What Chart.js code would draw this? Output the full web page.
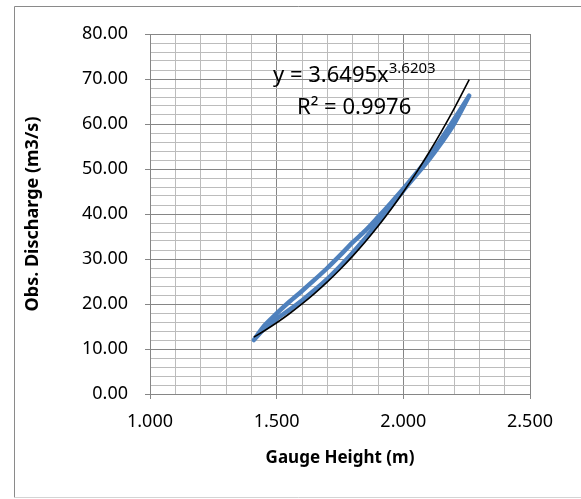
<!DOCTYPE html>
<html>
<head>
<meta charset="utf-8">
<script src="https://cdn.jsdelivr.net/npm/chart.js@4"></script>
<style>
  html, body { margin: 0; padding: 0; background: #fff; }
  #wrap { width: 581px; height: 499px; }
</style>
</head>
<body>
<div id="wrap"><canvas id="ratingCurve" width="581" height="499"></canvas></div>
<script>
// Observed discharge: rising limb then falling limb (loop)
const gaugeRising = [1.41, 1.45, 1.50, 1.55, 1.60, 1.65, 1.70, 1.75, 1.80, 1.85, 1.90, 1.95, 2.00, 2.05, 2.10, 2.15, 2.20, 2.26];
const flowRising  = [12.0, 14.4, 16.7, 18.7, 20.8, 23.1, 25.6, 28.4, 31.4, 34.6, 38.0, 41.6, 45.2, 48.6, 52.0, 55.8, 60.0, 66.3];
const gaugeFalling = [2.26, 2.20, 2.15, 2.10, 2.05, 2.00, 1.95, 1.90, 1.85, 1.80, 1.75, 1.70, 1.65, 1.60, 1.55, 1.50, 1.45, 1.41];
const flowFalling  = [66.3, 61.0, 56.7, 52.6, 49.0, 45.6, 42.4, 39.3, 36.3, 33.7, 30.8, 28.0, 25.4, 22.9, 20.5, 17.9, 15.1, 12.0];

// Power trendline y = a * x^b
const trendA = 3.6495;
const trendB = 3.6203;
const trendR2 = 0.9976;
const trendX = [1.41, 1.45, 1.50, 1.55, 1.60, 1.65, 1.70, 1.75, 1.80, 1.85, 1.90, 1.95, 2.00, 2.05, 2.10, 2.15, 2.20, 2.26];

const xTicks = { min: 1.0, max: 2.5, major: 0.5, minor: 0.1 };
const yTicks = { min: 0, max: 80, major: 10, minor: 2 };

const observed = gaugeRising.map((g, i) => ({ x: g, y: flowRising[i] }))
  .concat(gaugeFalling.map((g, i) => ({ x: g, y: flowFalling[i] })));
const trend = trendX.map(g => ({ x: g, y: trendA * Math.pow(g, trendB) }));

const GRID_MAJOR = "#868686";
const GRID_MINOR = "#bcbcbc";
const FONT = "'Noto Sans', 'DejaVu Sans', sans-serif";

const isMajor = (v, step) => Math.abs(v / step - Math.round(v / step)) < 1e-6;

// outer chart frame + trendline label
const framePlugin = {
  id: "frame",
  beforeDraw(chart) {
    const ctx = chart.ctx;
    ctx.save();
    ctx.fillStyle = "#fff";
    ctx.fillRect(0, 0, chart.width, chart.height);
    ctx.strokeStyle = "#8a8a8a";
    ctx.lineWidth = 1;
    ctx.beginPath();
    ctx.moveTo(700, 6.5);
    ctx.lineTo(14.5, 6.5);
    ctx.lineTo(14.5, 497.5);
    ctx.stroke();
    ctx.strokeStyle = "#d4d4d4";
    ctx.beginPath();
    ctx.moveTo(14.5, 497.5);
    ctx.lineTo(700, 497.5);
    ctx.stroke();
    ctx.restore();
  },
  afterDatasetsDraw(chart) {
    const ctx = chart.ctx;
    const area = chart.chartArea;
    ctx.save();
    ctx.fillStyle = "#000";
    ctx.textBaseline = "alphabetic";
    ctx.font = "22px " + FONT;
    const base = "y = " + trendA.toFixed(4) + "x";
    const x0 = area.left + 123;
    ctx.fillText(base, x0, 82);
    const w = ctx.measureText(base).width;
    ctx.font = "15px " + FONT;
    ctx.fillText(trendB.toFixed(4), x0 + w, 73);
    ctx.font = "22px " + FONT;
    ctx.fillText("R\u00b2 = " + trendR2.toFixed(4), area.left + 147, 114);
    ctx.restore();
  }
};

new Chart(document.getElementById("ratingCurve"), {
  type: "scatter",
  data: {
    datasets: [
      {
        label: "Power (Obs.)",
        data: trend,
        showLine: true,
        borderColor: "#000",
        borderWidth: 1.6,
        pointRadius: 0,
        tension: 0.4,
        order: 0
      },
      {
        label: "Obs.",
        data: observed,
        showLine: true,
        borderColor: "#4F81BD",
        borderWidth: 4.5,
        borderCapStyle: "round",
        borderJoinStyle: "round",
        pointRadius: 0,
        tension: 0.3,
        order: 1
      }
    ]
  },
  options: {
    responsive: false,
    animation: false,
    layout: { padding: { top: 34, right: 51, left: 0, bottom: 0 } },
    plugins: {
      legend: { display: false },
      tooltip: { enabled: false }
    },
    scales: {
      x: {
        type: "linear",
        min: xTicks.min,
        max: xTicks.max,
        afterFit: s => { s.height = 105; },
        ticks: {
          stepSize: xTicks.minor,
          autoSkip: false,
          maxRotation: 0,
          padding: 12,
          color: "#000",
          font: { family: FONT, size: 18 },
          callback: v => isMajor(v, xTicks.major) ? v.toFixed(3) : ""
        },
        grid: {
          color: c => isMajor(c.tick.value, xTicks.major) ? GRID_MAJOR : GRID_MINOR,
          tickColor: c => isMajor(c.tick.value, xTicks.major) ? GRID_MAJOR : "rgba(0,0,0,0)",
          tickLength: 5,
          lineWidth: 1
        },
        border: { color: GRID_MAJOR, width: 1 },
        title: {
          display: true,
          text: "Gauge Height (m)",
          color: "#000",
          font: { family: FONT, size: 17, weight: "bold" },
          padding: { top: 0, bottom: 31 }
        }
      },
      y: {
        type: "linear",
        min: yTicks.min,
        max: yTicks.max,
        afterFit: s => { s.width = 150; },
        ticks: {
          stepSize: yTicks.minor,
          autoSkip: false,
          padding: 17,
          color: "#000",
          font: { family: FONT, size: 18 },
          callback: v => isMajor(v, yTicks.major) ? v.toFixed(2) : ""
        },
        grid: {
          color: c => isMajor(c.tick.value, yTicks.major) ? GRID_MAJOR : GRID_MINOR,
          tickColor: c => isMajor(c.tick.value, yTicks.major) ? GRID_MAJOR : "rgba(0,0,0,0)",
          tickLength: 5,
          lineWidth: 1
        },
        border: { color: GRID_MAJOR, width: 1 },
        title: {
          display: true,
          text: "Obs. Discharge (m3/s)",
          color: "#000",
          font: { family: FONT, size: 18, weight: "bold" },
          padding: { top: 22, bottom: 0 }
        }
      }
    }
  },
  plugins: [framePlugin]
});
</script>
</body>
</html>
